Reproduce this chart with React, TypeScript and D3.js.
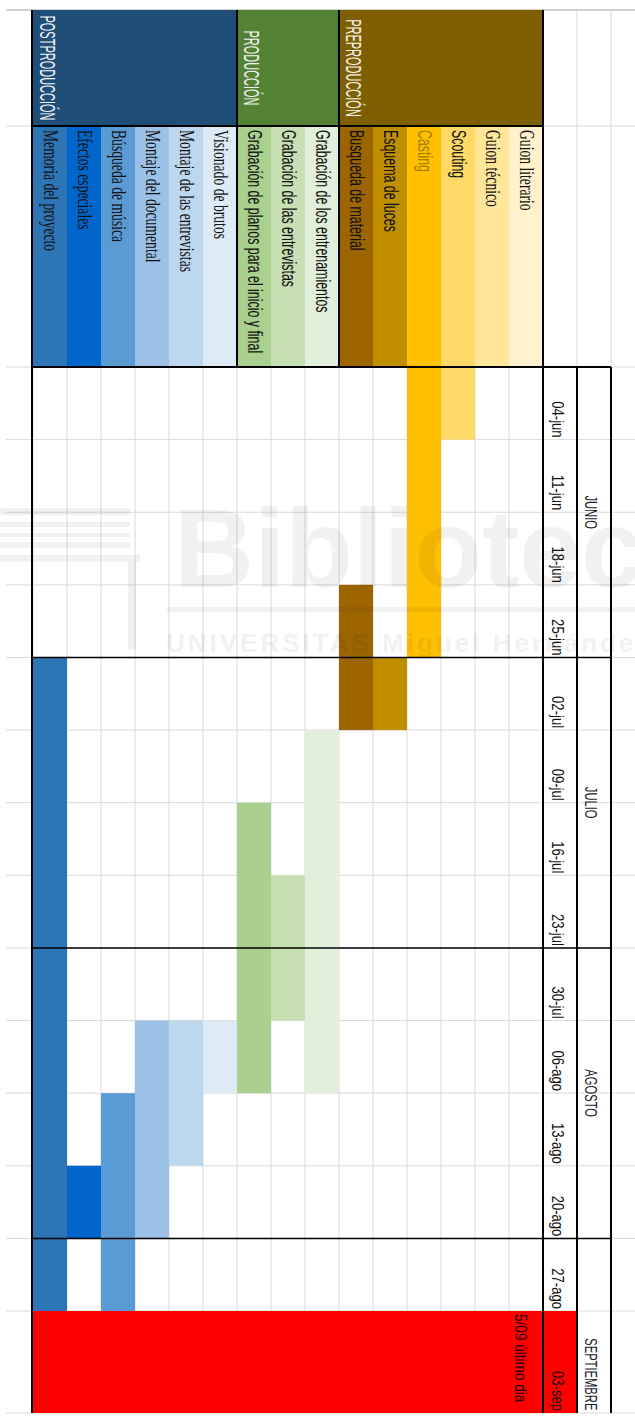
import React from "react";
import * as d3 from "d3";

// project plan, weeks run top to bottom, tasks right to left (sheet rotated 90deg)
const phases = ["PREPRODUCCIÓN", "PRODUCCIÓN", "POSTPRODUCCIÓN"];
const tasks = [
  "Guion literario",
  "Guion técnico",
  "Scouting",
  "Casting",
  "Esquema de luces",
  "Busqueda de material",
  "Grabación de los entrenamientos",
  "Grabación de las entrevistas",
  "Grabación de planos para el inicio y final",
  "Visionado de brutos",
  "Montaje de las entrevistas",
  "Montaje del documental",
  "Búsqueda de música",
  "Efectos especiales",
  "Memoria del proyecto",
];
const taskPhase = [0, 0, 0, 0, 0, 0, 1, 1, 1, 2, 2, 2, 2, 2, 2];
// first / last week index of each task (null = no bar)
const taskStart = [null, null, 0, 0, 4, 3, 5, 7, 6, 9, 9, 9, 10, 11, 4];
const taskEnd = [null, null, 0, 3, 4, 4, 9, 8, 9, 9, 10, 11, 12, 11, 12];
const weeks = [
  "04-jun", "11-jun", "18-jun", "25-jun",
  "02-jul", "09-jul", "16-jul", "23-jul",
  "30-jul", "06-ago", "13-ago", "20-ago",
  "27-ago", "03-sep",
];
const months = ["JUNIO", "JULIO", "AGOSTO", "SEPTIEMBRE"];
const weeksPerMonth = 4;
const deadlineWeek = 13;
const deadlineNote = "5/09 último dia";

// styles
const phaseColors = ["#7F6000", "#548235", "#1F4E79"];
const taskColors = [
  "#FFF2CC", "#FFE699", "#FFD966", "#FFC000", "#BF8F00", "#9C6500",
  "#E2EFDA", "#C6E0B4", "#A9D08E",
  "#DDEBF7", "#BDD7EE", "#9BC2E6", "#5B9BD5", "#0066CC", "#2E75B6",
];
const serifTasks = new Set([
  "Guion literario", "Guion técnico", "Visionado de brutos",
  "Montaje de las entrevistas", "Montaje del documental",
  "Búsqueda de música", "Efectos especiales", "Memoria del proyecto",
]);
const SANS = "'Liberation Sans', Arial, sans-serif";
const SERIF = "'Liberation Serif', 'Times New Roman', serif";
const GRID = "#D9D9D9";

const W = 635;
const H = 1416;

const VText = ({ x, y, size, sx, anchor = "start", family = SANS, fill = "#111", children }: any) => (
  <text
    transform={`translate(${x},${y}) rotate(90) scale(${sx},1)`}
    fontSize={size}
    fontFamily={family}
    textAnchor={anchor}
    fill={fill}
  >
    {children}
  </text>
);

const App = () => {
  const headTop = 10;
  const labelTop = 126;
  const chartTop = 367;
  const bottom = H - 3;

  const x = d3.scaleBand<string>().domain(tasks).range([543, 33]);
  const bw = x.bandwidth();
  const left = 33;
  const right = 543;
  const dateX = right;
  const monthX = right + bw;
  const outerX = right + 2 * bw;

  const y = d3.scaleLinear().domain([0, weeks.length - 1]).range([chartTop, 1311]);
  const rowBot = (i: number) => (i >= weeks.length - 1 ? bottom : y(i + 1));

  const phaseExt = phases.map((_, p) => {
    const xs = tasks.filter((_, i) => taskPhase[i] === p).map((t) => x(t) as number);
    return [d3.min(xs) as number, (d3.max(xs) as number) + bw];
  });

  const hLines = [headTop, labelTop, ...weeks.map((_, i) => y(i)), bottom];
  const vLines = [...tasks.map((t) => x(t) as number), right];

  // month merged cells run past the bottom edge; keep the label inside the page
  const monthSize = 16;
  const monthSx = 0.7;
  const monthY = (m: string, i: number) => {
    const half = (m.length * monthSize * monthSx * 0.62) / 2;
    return Math.min(y(i * weeksPerMonth + weeksPerMonth / 2), bottom - 4 - half);
  };

  return (
    <svg
      width={W}
      height={H}
      style={{ position: "absolute", left: 0, top: 0, background: "#fff" }}
    >
      <rect width={W} height={H} fill="#fff" />

      {/* gridlines */}
      <g stroke={GRID} strokeWidth={1}>
        {hLines.map((v, i) => (
          <line key={"h" + i} x1={6} x2={W} y1={v} y2={v} stroke={i === 0 ? "#A6A6A6" : GRID} />
        ))}
        {vLines.map((v, i) => (
          <line key={"v" + i} x1={v} x2={v} y1={chartTop} y2={bottom} />
        ))}
        {[monthX, outerX].map((v, i) => (
          <line key={"r" + i} x1={v} x2={v} y1={headTop} y2={bottom} />
        ))}
      </g>

      {/* task label columns */}
      {tasks.map((t, i) => (
        <rect key={t} x={x(t)} y={labelTop} width={bw} height={chartTop - labelTop} fill={taskColors[i]} />
      ))}

      {/* phase headers */}
      {phases.map((p, i) => (
        <rect key={p} x={phaseExt[i][0]} y={headTop} width={phaseExt[i][1] - phaseExt[i][0]} height={labelTop - headTop} fill={phaseColors[i]} />
      ))}

      {/* bars */}
      {tasks.map((t, i) =>
        taskStart[i] === null ? null : (
          <rect
            key={"b" + t}
            x={x(t)}
            y={y(taskStart[i] as number)}
            width={bw}
            height={rowBot(taskEnd[i] as number) - y(taskStart[i] as number)}
            fill={taskColors[i]}
          />
        )
      )}

      {/* deadline week */}
      <rect x={left} y={y(deadlineWeek)} width={monthX - left} height={rowBot(deadlineWeek) - y(deadlineWeek)} fill="#FF0000" />

      {/* black borders */}
      <g stroke="#000" fill="none">
        <line x1={left - 1} x2={left - 1} y1={headTop} y2={bottom} strokeWidth={2} />
        <line x1={right} x2={right} y1={headTop} y2={bottom} strokeWidth={2} />
        {phaseExt.slice(1).map((e, i) => (
          <line key={"pb" + i} x1={e[1]} x2={e[1]} y1={headTop} y2={chartTop} strokeWidth={2} />
        ))}
        <line x1={left - 1} x2={right} y1={labelTop} y2={labelTop} strokeWidth={2} />
        {[monthX, outerX].map((v, i) => (
          <line key={"mb" + i} x1={v} x2={v} y1={chartTop} y2={bottom} strokeWidth={2} />
        ))}
        {d3.range(0, weeks.length, weeksPerMonth).map((w) => (
          <line key={"ml" + w} x1={left - 1} x2={outerX} y1={y(w)} y2={y(w)} strokeWidth={w === 0 ? 2 : 1.5} />
        ))}
      </g>

      {/* phase titles */}
      {phases.map((p, i) => (
        <VText key={"pt" + p} x={phaseExt[i][0] + 7} y={(headTop + labelTop) / 2} size={22} sx={0.5} anchor="middle" fill="#F2F2F2">
          {p}
        </VText>
      ))}

      {/* task names */}
      {tasks.map((t) => (
        <VText
          key={"tn" + t}
          x={(x(t) as number) + 11}
          y={labelTop + 4}
          size={serifTasks.has(t) ? 22 : 20}
          sx={0.62}
          family={serifTasks.has(t) ? SERIF : SANS}
          fill={t === "Casting" ? "#A67C00" : "#111"}
        >
          {t}
        </VText>
      ))}

      {/* week labels */}
      {weeks.map((w, i) => (
        <VText key={"w" + w} x={dateX + 9} y={rowBot(i) - 2} size={17} sx={0.77} anchor="end">
          {w}
        </VText>
      ))}

      {/* month labels */}
      {months.map((m, i) => (
        <VText key={"m" + m} x={monthX + 8} y={monthY(m, i)} size={monthSize} sx={monthSx} anchor="middle" fill="#1a1a2a">
          {m}
        </VText>
      ))}

      <VText x={(x(tasks[0]) as number) + 6} y={y(deadlineWeek) + 3} size={17} sx={0.8} fill="#1a0000">
        {deadlineNote}
      </VText>

      {/* faint library watermark */}
      <g fill="#000" opacity={0.05} fontFamily={SANS} pointerEvents="none">
        <text x={174} y={587} fontSize={111} fontWeight="bold">Biblioteca</text>
        <rect x={167} y={607} width={W - 167} height={5} />
        <text x={166} y={652} fontSize={26} fontWeight="bold" letterSpacing={3}>UNIVERSITAS Miguel Hernández</text>
        <rect x={0} y={508} width={130} height={7} />
        <rect x={0} y={522} width={130} height={5} />
        <rect x={0} y={533} width={130} height={4} />
        <rect x={0} y={542} width={130} height={6} />
        <rect x={0} y={555} width={140} height={7} />
        <rect x={128} y={555} width={8} height={95} />
      </g>
    </svg>
  );
};

export default App;
